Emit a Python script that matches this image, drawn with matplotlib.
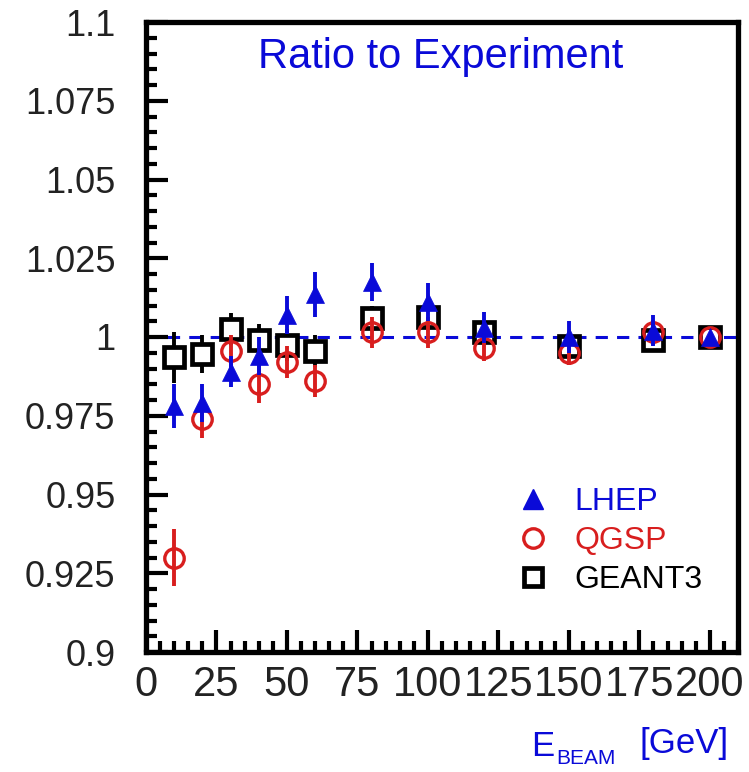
import matplotlib
matplotlib.use("Agg")
import matplotlib.pyplot as plt
from matplotlib.ticker import MultipleLocator
from matplotlib.lines import Line2D

plt.rcParams['font.family'] = ['Liberation Sans', 'DejaVu Sans']

energy = [10, 20, 30, 40, 50, 60, 80, 100, 120, 150, 180, 200]

lhep = [0.978, 0.979, 0.989, 0.994, 1.007, 1.0135, 1.0175, 1.011, 1.003, 1.000, 1.002, 1.000]
lhep_err = [0.007, 0.006, 0.005, 0.006, 0.006, 0.007, 0.006, 0.006, 0.005, 0.005, 0.005, 0.0]

qgsp = [0.930, 0.974, 0.9955, 0.985, 0.992, 0.986, 1.0015, 1.0015, 0.9965, 0.9950, 1.0015, 1.000]
qgsp_err = [0.009, 0.006, 0.005, 0.006, 0.005, 0.005, 0.005, 0.005, 0.004, 0.004, 0.004, 0.0]

geant3 = [0.9935, 0.9945, 1.0025, 0.9990, 0.9975, 0.9955, 1.0060, 1.0065, 1.0015, 0.9970, 0.9990, 1.000]
geant3_err = [0.008, 0.006, 0.005, 0.005, 0.005, 0.005, 0.004, 0.004, 0.003, 0.003, 0.003, 0.0]

xticks = [0, 25, 50, 75, 100, 125, 150, 175, 200]
yticks = [0.9, 0.925, 0.95, 0.975, 1.0, 1.025, 1.05, 1.075, 1.1]
ytick_labels = ['0.9', '0.925', '0.95', '0.975', '1', '1.025', '1.05', '1.075', '1.1']

BLUE = '#0a0ad8'
RED = '#d81e1e'
BLACK = '#000000'

fig = plt.figure(figsize=(7.49, 7.72), dpi=100)
ax = fig.add_axes([146/749, (772-652)/772, (738-146)/749, (652-22)/772])

ax.axhline(1.0, color=BLUE, lw=2.2, ls=(0, (4, 3)), zorder=1)

# GEANT3
ax.errorbar(energy, geant3, yerr=geant3_err, fmt='none', ecolor=BLACK, elinewidth=2.8, capsize=0, zorder=2)
ax.plot(energy, geant3, ls='none', marker='s', ms=14, mfc='white', mec=BLACK, mew=3.4, zorder=3)
# QGSP
ax.errorbar(energy, qgsp, yerr=qgsp_err, fmt='none', ecolor=RED, elinewidth=2.8, capsize=0, zorder=4)
ax.plot(energy, qgsp, ls='none', marker='o', ms=14, mfc='none', mec=RED, mew=2.4, zorder=5)
# LHEP
ax.errorbar(energy, lhep, yerr=lhep_err, fmt='none', ecolor=BLUE, elinewidth=2.8, capsize=0, zorder=6)
ax.plot(energy, lhep, ls='none', marker='^', ms=13, mfc=BLUE, mec=BLUE, mew=0.5, zorder=7)

ax.set_xlim(0, 210)
ax.set_ylim(0.9, 1.1)
ax.set_xticks(xticks)
ax.set_xticklabels([str(t) for t in xticks])
ax.set_yticks(yticks)
ax.set_yticklabels(ytick_labels)
ax.xaxis.set_minor_locator(MultipleLocator(5))
ax.yaxis.set_minor_locator(MultipleLocator(0.005))

ax.tick_params(axis='both', which='both', direction='in', top=False, right=False, width=3, colors='black')
ax.tick_params(axis='both', which='major', length=16)
ax.tick_params(axis='both', which='minor', length=8)
ax.tick_params(axis='y', which='major', labelsize=26, pad=22)
ax.tick_params(axis='x', which='major', labelsize=30, pad=9)
for lab in ax.get_xticklabels() + ax.get_yticklabels():
    lab.set_color('#222222')

for s in ax.spines.values():
    s.set_linewidth(3.8)

ax.text(0.497, 0.944, 'Ratio to Experiment', transform=ax.transAxes, ha='center', va='center',
        color=BLUE, fontsize=30)

handles = [
    Line2D([], [], ls='none', marker='^', ms=14, mfc=BLUE, mec=BLUE),
    Line2D([], [], ls='none', marker='o', ms=14, mfc='none', mec=RED, mew=2.4),
    Line2D([], [], ls='none', marker='s', ms=13, mfc='white', mec=BLACK, mew=3.4),
]
leg = ax.legend(handles, ['LHEP', 'QGSP', 'GEANT3'], loc='upper left',
                bbox_to_anchor=((515-146)/592, (652-487)/630), frameon=False,
                fontsize=23, handletextpad=0.75, labelspacing=0.28, handlelength=1.1,
                borderpad=0, borderaxespad=0)
for t, c in zip(leg.get_texts(), [BLUE, RED, BLACK]):
    t.set_color(c)

fig.text(531/749, 1-746/772, 'E', color=BLUE, fontsize=25, ha='left', va='center')
fig.text(556/749, 1-759/772, 'BEAM', color=BLUE, fontsize=15, ha='left', va='center')
fig.text(640/749, 1-744/772, '[GeV]', color=BLUE, fontsize=25, ha='left', va='center')

fig.savefig('out.png', dpi=100, facecolor='white')
